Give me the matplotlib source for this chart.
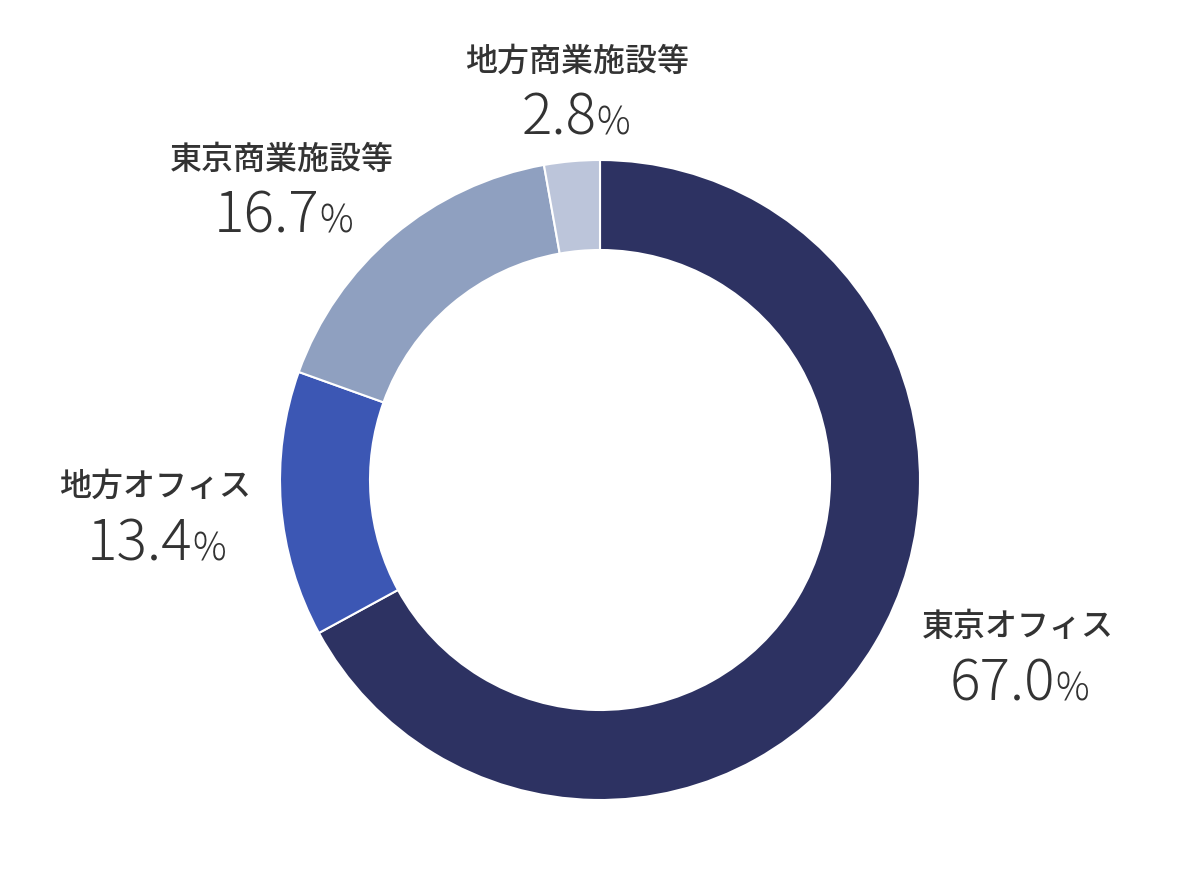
import matplotlib
matplotlib.use("Agg")
import matplotlib.pyplot as plt
from matplotlib.offsetbox import TextArea, HPacker, AnnotationBbox

plt.rcParams['font.family'] = ['Noto Sans CJK JP', 'DejaVu Sans']

categories = ["東京オフィス", "地方オフィス", "東京商業施設等", "地方商業施設等"]
values = [67.0, 13.4, 16.7, 2.8]
colors = ["#2d3262", "#3c57b4", "#8fa0c0", "#bcc5da"]

# label anchor positions in pixel coords (x from left, y from top)
label_pos = [(1018, 627), (155, 487), (282, 160), (577, 62)]
value_pos = [(1019, 684), (156, 544), (283, 216), (576, 118)]

W, H = 1200, 880
cx, cy = 600, 480
fig = plt.figure(figsize=(W / 100, H / 100), dpi=100)
ax = fig.add_axes([0, 0, 1, 1])

ax.pie(values, colors=colors, startangle=90, counterclock=False, radius=320,
       wedgeprops=dict(width=90, edgecolor='white', linewidth=1.5))

ax.set_xlim(-cx, W - cx)
ax.set_ylim(-(H - cy), cy)
ax.set_aspect('equal')
ax.axis('off')

txt_color = '#333333'

def px(x, y):
    return x - cx, cy - y

for cat, val, lp, vp in zip(categories, values, label_pos, value_pos):
    ax.text(*px(*lp), cat, ha='center', va='center', fontsize=23,
            color=txt_color, fontweight=500)
    num = TextArea(f"{val:.1f}", textprops=dict(fontsize=41, color=txt_color, fontweight=300))
    pct = TextArea("%", textprops=dict(fontsize=27, color=txt_color, fontweight=300))
    box = HPacker(children=[num, pct], align='baseline', pad=0, sep=0)
    ab = AnnotationBbox(box, px(*vp), xycoords='data', box_alignment=(0.5, 0.5),
                        frameon=False, pad=0)
    ax.add_artist(ab)

fig.savefig("out.png", dpi=100, facecolor='white')
